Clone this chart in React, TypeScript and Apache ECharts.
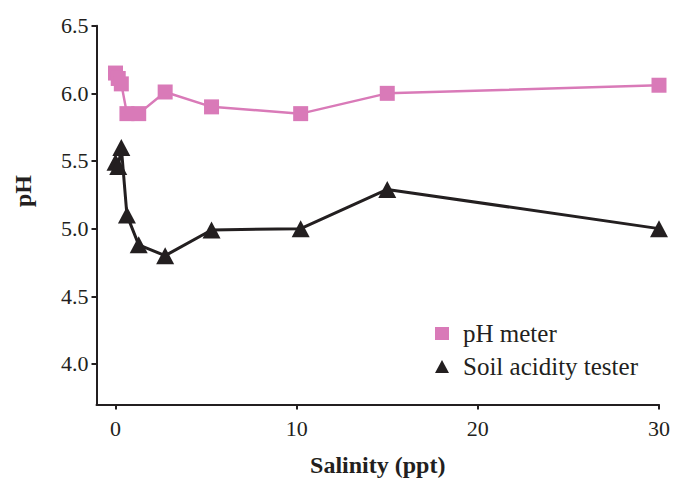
import React, { useEffect, useRef } from "react";
import * as echarts from "echarts";

const salinity = [0, 0.15, 0.32, 0.63, 1.28, 2.74, 5.3, 10.22, 15.0, 30];
const phMeter = [6.15, 6.11, 6.07, 5.85, 5.85, 6.01, 5.9, 5.85, 6.0, 6.06];
const soilTester = [5.49, 5.46, 5.6, 5.1, 4.88, 4.8, 4.99, 5.0, 5.29, 5.0];
const xTicks = [0, 10, 20, 30];
const yTicks = [4.0, 4.5, 5.0, 5.5, 6.0, 6.5];

const FONT = "'Liberation Serif', 'DejaVu Serif', serif";
const INK = "#231f20";
const PINK = "#d97ab8";

export default function App() {
  const ref = useRef<HTMLDivElement>(null);
  useEffect(() => {
    const chart = echarts.init(ref.current!, null, { renderer: "svg" });
    chart.setOption({
      animation: false,
      backgroundColor: "#ffffff",
      grid: { left: 96.5, right: 12, top: 25.7, bottom: 80.5, containLabel: false },
      legend: {
        orient: "vertical",
        left: 430,
        top: 316,
        itemGap: 8,
        itemWidth: 14,
        itemHeight: 13,
        textStyle: {
          fontFamily: FONT,
          fontSize: 25,
          lineHeight: 25,
          color: INK,
          padding: [0, 0, 0, 9],
        },
        data: [
          { name: "pH meter", icon: "rect", itemStyle: { color: PINK } },
          { name: "Soil acidity tester", icon: "triangle", itemStyle: { color: INK } },
        ],
      },
      xAxis: {
        type: "value",
        min: -1.05,
        max: 30,
        name: "Salinity (ppt)",
        nameLocation: "middle",
        nameGap: 48,
        nameTextStyle: { fontFamily: FONT, fontSize: 24, fontWeight: "bold", color: INK },
        axisLine: { show: true, onZero: false, lineStyle: { color: INK, width: 2 } },
        axisTick: { show: true, length: 5, customValues: xTicks, lineStyle: { color: INK, width: 2 } },
        axisLabel: {
          customValues: xTicks,
          margin: 13,
          fontFamily: FONT,
          fontSize: 22,
          color: INK,
        },
        splitLine: { show: false },
      },
      yAxis: {
        type: "value",
        min: 3.7,
        max: 6.5,
        axisLine: { show: true, onZero: false, lineStyle: { color: INK, width: 2 } },
        axisTick: { show: true, length: 5, customValues: yTicks, lineStyle: { color: INK, width: 2 } },
        axisLabel: {
          customValues: yTicks,
          margin: 8,
          fontFamily: FONT,
          fontSize: 22,
          color: INK,
          formatter: (v: number) => v.toFixed(1),
        },
        splitLine: { show: false },
      },
      graphic: [
        {
          type: "text",
          x: 23,
          y: 191,
          rotation: Math.PI / 2,
          style: {
            text: "pH",
            fontFamily: FONT,
            fontSize: 24,
            fontWeight: "bold",
            fill: INK,
            align: "center",
            verticalAlign: "middle",
          },
        },
      ],
      series: [
        {
          name: "pH meter",
          type: "line",
          data: salinity.map((x, i) => [x, phMeter[i]]),
          symbol: "rect",
          symbolSize: 15,
          lineStyle: { color: PINK, width: 2.5 },
          itemStyle: { color: PINK },
          z: 3,
        },
        {
          name: "Soil acidity tester",
          type: "line",
          data: salinity.map((x, i) => [x, soilTester[i]]),
          symbol: "triangle",
          symbolSize: [18, 17],
          lineStyle: { color: INK, width: 3 },
          itemStyle: { color: INK },
          z: 2,
        },
      ],
    });
    return () => chart.dispose();
  }, []);
  return (
    <div
      ref={ref}
      style={{ position: "absolute", left: 0, top: 0, width: 673, height: 485 }}
    />
  );
}
